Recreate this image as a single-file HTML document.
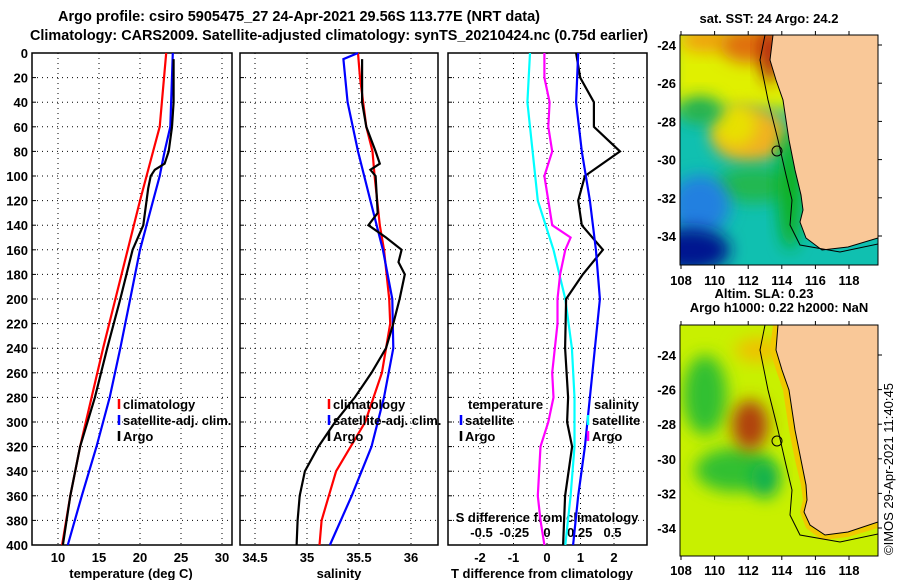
<!DOCTYPE html>
<html><head><meta charset="utf-8"><style>
body{margin:0;background:#fff;width:900px;height:580px;overflow:hidden;font-family:"Liberation Sans",sans-serif}
svg text{font-family:"Liberation Sans",sans-serif;font-weight:bold;font-size:13px;fill:#000}
</style></head><body>
<svg id="c" width="900" height="580" xmlns="http://www.w3.org/2000/svg">
<defs>
<filter id="bl" x="-50%" y="-50%" width="200%" height="200%"><feGaussianBlur stdDeviation="8"/></filter>
<clipPath id="m1"><rect x="680" y="35" width="198" height="230"/></clipPath>
<clipPath id="m2"><rect x="680" y="325" width="198" height="231"/></clipPath>
</defs>
<text x="58" y="21" textLength="482" lengthAdjust="spacingAndGlyphs" style="font-size:14.5px">Argo profile: csiro 5905475_27 24-Apr-2021 29.56S 113.77E (NRT data)</text>
<text x="30" y="40" textLength="618" lengthAdjust="spacingAndGlyphs" style="font-size:14.5px">Climatology: CARS2009. Satellite-adjusted climatology: synTS_20210424.nc (0.75d earlier)</text>
<g id="plots"></g>
<!-- map 1 -->
<g clip-path="url(#m1)">
<rect x="680" y="35" width="198" height="230" fill="#10c0b0"/>
<rect x="670" y="25" width="130" height="85" fill="#e0f000" filter="url(#bl)"/>
<ellipse cx="705" cy="40" rx="25" ry="12" fill="#f0a010" filter="url(#bl)"/>
<ellipse cx="750" cy="45" rx="30" ry="18" fill="#e07010" filter="url(#bl)"/>
<ellipse cx="770" cy="55" rx="10" ry="28" fill="#b02008" filter="url(#bl)"/>
<ellipse cx="750" cy="135" rx="38" ry="28" fill="#f0b020" filter="url(#bl)"/>
<ellipse cx="735" cy="125" rx="22" ry="22" fill="#e8e000" filter="url(#bl)"/>
<ellipse cx="700" cy="110" rx="22" ry="14" fill="#20b050" filter="url(#bl)"/>
<ellipse cx="755" cy="185" rx="40" ry="18" fill="#20b850" filter="url(#bl)"/>
<ellipse cx="700" cy="205" rx="30" ry="30" fill="#2080e0" filter="url(#bl)"/>
<ellipse cx="690" cy="250" rx="40" ry="22" fill="#001890" filter="url(#bl)"/>
<ellipse cx="790" cy="190" rx="12" ry="60" fill="#10b020" filter="url(#bl)"/>
<path d="M773,35 L770,60 L776,80 L783,100 L789,140 L795,170 L801,195 L803,210 L800,222 L806,238 L822,250 L848,247 L878,238 L878,35 Z" fill="#f9c898" stroke="#000" stroke-width="1"/>
<path d="M765,35 L760,60 L768,100 L778,140 L786,175 L792,200 L790,225 L800,245 L840,252 L878,244" fill="none" stroke="#000" stroke-width="1"/>
<circle cx="777" cy="151" r="5" fill="none" stroke="#000" stroke-width="1"/>
</g>
<rect x="680" y="35" width="198" height="230" fill="none" stroke="#000"/>
<text x="769" y="23" text-anchor="middle" font-size="12">sat. SST: 24 Argo: 24.2</text>
<!-- map 2 -->
<g clip-path="url(#m2)">
<rect x="680" y="325" width="198" height="231" fill="#c8f000"/>
<ellipse cx="705" cy="395" rx="22" ry="40" fill="#30c030" filter="url(#bl)"/>
<ellipse cx="735" cy="470" rx="40" ry="22" fill="#30c030" filter="url(#bl)"/>
<ellipse cx="765" cy="480" rx="14" ry="18" fill="#10b050" filter="url(#bl)"/>
<ellipse cx="760" cy="350" rx="25" ry="12" fill="#f0c000" filter="url(#bl)"/>
<ellipse cx="750" cy="425" rx="18" ry="25" fill="#b04010" filter="url(#bl)"/>
<path d="M773,325 L770,350 L776,370 L783,390 L789,430 L795,460 L801,485 L803,500 L800,512 L806,528 L822,540 L848,537 L878,528 L878,325 Z" fill="#f0c800" stroke="none"/>
<path d="M778,325 L776,350 L782,370 L789,390 L795,430 L801,460 L806,485 L807,500 L804,512 L810,525 L825,535 L848,532 L878,522 L878,325 Z" fill="#f9c898" stroke="#000" stroke-width="1"/>
<path d="M765,325 L760,350 L768,390 L778,430 L786,465 L792,490 L790,515 L800,535 L840,542 L878,534" fill="none" stroke="#000" stroke-width="1"/>
<circle cx="777" cy="441" r="5" fill="none" stroke="#000" stroke-width="1"/>
</g>
<rect x="680" y="325" width="198" height="231" fill="none" stroke="#000"/>
<text x="764" y="298" text-anchor="middle" font-size="12">Altim. SLA: 0.23</text>
<text x="779" y="312" text-anchor="middle" font-size="12">Argo h1000: 0.22 h2000: NaN</text>
<text transform="translate(893,555) rotate(-90)" font-size="12" style="font-weight:normal">©IMOS 29-Apr-2021 11:40:45</text>
<g id="mapaxes"></g>
</svg>
<script>
// ---- data ----
const depthTicks=[0,20,40,60,80,100,120,140,160,180,200,220,240,260,280,300,320,340,360,380,400];
const tTicks=[10,15,20,25,30];
const sTicks=[34.5,35,35.5,36];
const dtTicks=[-2,-1,0,1,2];
const dsTicks=["-0.5","-0.25","0","0.25","0.5"];
const dsTickVals=[-0.5,-0.25,0,0.25,0.5];
const lonTicks=[108,110,112,114,116,118];
const latTicks=[-24,-26,-28,-30,-32,-34];

const climTDepth=[0,60,80,120,160,200,240,280,320,360,400];
const climT=[23.2,22.4,21.6,20.0,18.5,17.0,15.5,14.1,12.7,11.5,10.5];
const satTDepth=[0,60,80,100,120,160,200,240,280,320,360,400];
const satT=[24.0,23.7,23.0,22.4,21.6,20.0,18.8,17.6,16.3,14.7,12.9,11.2];
const argoTDepth=[5,40,60,80,90,95,100,110,140,160,200,240,280,320,360,400];
const argoT=[24.1,24.1,23.9,23.5,23.0,21.8,21.3,21.0,20.4,19.1,17.6,16.0,14.5,12.7,11.5,10.6];

const climSDepth=[0,20,60,80,100,140,160,200,220,260,300,340,380,400];
const climS=[35.49,35.51,35.57,35.63,35.65,35.70,35.74,35.79,35.80,35.72,35.56,35.28,35.14,35.12];
const satSDepth=[0,5,40,80,120,160,200,240,280,320,360,400];
const satS=[35.49,35.35,35.39,35.49,35.61,35.73,35.82,35.83,35.74,35.62,35.43,35.22];
const argoSDepth=[5,40,60,80,90,95,100,130,140,150,160,170,180,200,220,240,260,280,300,320,340,360,380,400];
const argoS=[35.53,35.53,35.57,35.66,35.70,35.61,35.66,35.68,35.59,35.76,35.91,35.88,35.94,35.89,35.83,35.76,35.62,35.46,35.27,35.11,34.98,34.93,34.91,34.90];

const dArgoTDepth=[0,20,40,60,80,100,120,140,160,180,200,240,280,300,320,360,400];
const dArgoT=[0.87,0.99,1.40,1.40,2.18,1.13,0.93,1.04,1.67,1.07,0.57,0.54,0.63,0.60,0.75,0.54,0.48];
const dSatTDepth=[0,40,80,120,160,200,240,280,320,360,400];
const dSatT=[0.93,0.87,1.04,1.28,1.46,1.58,1.43,1.28,1.13,0.93,0.78];
const dSatSDepth=[0,40,80,120,160,200,240,280,320,360,400];
const dSatS=[-0.13,-0.15,-0.11,-0.07,0.05,0.14,0.19,0.21,0.21,0.18,0.14];
const dArgoSDepth=[0,20,40,60,80,100,120,140,150,160,180,200,220,260,280,300,320,360,380,400];
const dArgoS=[-0.02,-0.02,0.02,0.01,0.04,-0.02,0.01,0.04,0.18,0.14,0.10,0.08,0.08,0.04,0.05,0.01,-0.05,-0.07,-0.05,-0.02];

// ---- drawing ----
const NS='http://www.w3.org/2000/svg';
const root=document.getElementById('plots');
function mk(tag,attrs,parent){const e=document.createElementNS(NS,tag);for(const k in attrs)e.setAttribute(k,attrs[k]);(parent||root).appendChild(e);return e;}
const Y0=53,Y1=545;
const yD=d=>Y0+(d/400)*(Y1-Y0);
const xT=v=>58+(v-10)*8.2;
const xS=v=>307+(v-35)*104;
const xDT=v=>547+v*33.5;
const xDS=v=>547+v*131;
const panels=[[32,232],[240,438],[448,647]];

panels.forEach((p,i)=>{
  depthTicks.forEach(d=>{
    if(d>0&&d<400){const l=mk('line',{x1:p[0],x2:p[1],y1:yD(d),y2:yD(d),stroke:'#000','stroke-dasharray':'1,4'});
    
    }
    const tk=mk('line',{x1:p[0],x2:p[0]+4,y1:yD(d),y2:yD(d),stroke:'#000'});
    
    
  });
  const fr=mk('rect',{x:p[0],y:Y0,width:p[1]-p[0],height:Y1-Y0,fill:'none',stroke:'#000','stroke-width':1.5});
  
  
});
depthTicks.forEach(d=>{
  const t=mk('text',{x:28,y:yD(d)+5,'text-anchor':'end'});t.textContent=d;
  
  
});
function vgrid(vals,fx,p,lab,ly){vals.forEach((v,k)=>{
  const l=mk('line',{x1:fx(v),x2:fx(v),y1:Y0,y2:Y1,stroke:'#000','stroke-dasharray':'1,4'});
  
  
  const t=mk('text',{x:fx(v),y:ly,'text-anchor':'middle'});t.textContent=lab?lab[k]:v;
  
  
});}
vgrid(tTicks,xT,panels[0],null,562);
vgrid(sTicks,xS,panels[1],null,562);
vgrid(dtTicks,xDT,panels[2],null,562);
dsTickVals.forEach((v,k)=>{const t=mk('text',{x:xDS(v),y:537,'text-anchor':'middle'});t.textContent=dsTicks[k];
  
  });
function txt(x,y,s,name,anchor){const t=mk('text',{x:x,y:y,'text-anchor':anchor||'start'});t.textContent=s;
  
  return t;}
txt(131,578,'temperature (deg C)','temperature-axis-title','middle');
txt(339,578,'salinity','salinity-axis-title','middle');
txt(542,578,'T difference from climatology','t-diff-axis-title','middle');
txt(547,522,'S difference from climatology','s-diff-axis-title','middle');

function line(xs,ds,fx,col,name){
  const pts=xs.map((v,k)=>fx(v).toFixed(1)+','+yD(ds[k]).toFixed(1)).join(' ');
  const l=mk('polyline',{points:pts,fill:'none',stroke:col,'stroke-width':2.2});
  
  
}
line(climT,climTDepth,xT,'#f00','climatology-temperature-line');
line(satT,satTDepth,xT,'#00f','satellite-temperature-line');
line(argoT,argoTDepth,xT,'#000','argo-temperature-line');
line(climS,climSDepth,xS,'#f00','climatology-salinity-line');
line(satS,satSDepth,xS,'#00f','satellite-salinity-line');
line(argoS,argoSDepth,xS,'#000','argo-salinity-line');
line(dSatS,dSatSDepth,xDS,'#0ff','satellite-s-diff-line');
line(dArgoS,dArgoSDepth,xDS,'#f0f','argo-s-diff-line');
line(dArgoT,dArgoTDepth,xDT,'#000','argo-t-diff-line');
line(dSatT,dSatTDepth,xDT,'#00f','satellite-t-diff-line');

function leg(x,y,col,label,name){
  const m=mk('line',{x1:x,x2:x,y1:y-10,y2:y,stroke:col,'stroke-width':2.5});
  
  
  txt(x+4,y,label,name);
}
leg(119,409,'#f00','climatology','legend-climatology');
leg(119,425,'#00f','satellite-adj. clim.','legend-satellite');
leg(119,441,'#000','Argo','legend-argo');
leg(329,409,'#f00','climatology','legend-climatology-s');
leg(329,425,'#00f','satellite-adj. clim.','legend-satellite-s');
leg(329,441,'#000','Argo','legend-argo-s');
txt(468,409,'temperature','legend-temperature-heading');
leg(461,425,'#00f','satellite','legend-t-satellite');
leg(461,441,'#000','Argo','legend-t-argo');
txt(594,409,'salinity','legend-salinity-heading');
leg(588,425,'#0ff','satellite','legend-s-satellite');
leg(588,441,'#f0f','Argo','legend-s-argo');

// map axes
const ma=document.getElementById('mapaxes');
const lonX=v=>681+(v-108)*16.8;
[[35,265,45,19.1,285],[325,556,355,17.3,575]].forEach(m=>{
  lonTicks.forEach(v=>{
    const t=mk('text',{x:lonX(v),y:m[4],'text-anchor':'middle'},ma);t.textContent=v;
    
    
    mk('line',{x1:lonX(v),x2:lonX(v),y1:m[1],y2:m[1]+4,stroke:'#000'},ma);
    mk('line',{x1:lonX(v),x2:lonX(v),y1:m[0]-4,y2:m[0],stroke:'#000'},ma);
  });
  latTicks.forEach(v=>{
    const y=m[2]+(-24-v)*m[3];
    const t=mk('text',{x:676,y:y+5,'text-anchor':'end'},ma);t.textContent=v;
    
    
    mk('line',{x1:878,x2:882,y1:y,y2:y,stroke:'#000'},ma);
  });
});
</script>
</body></html>
